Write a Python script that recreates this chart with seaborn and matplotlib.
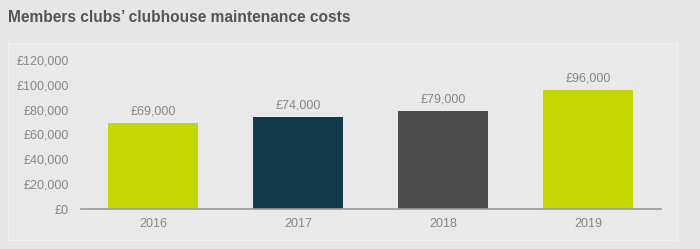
import matplotlib
matplotlib.use("Agg")
import matplotlib.pyplot as plt
import seaborn as sns
import pandas as pd
from matplotlib.patches import Rectangle

years = ["2016", "2017", "2018", "2019"]
costs = [69000, 74000, 79000, 96000]
bar_colors = ["#c5d700", "#133a4a", "#4d4d4d", "#c5d700"]
yticks = [0, 20000, 40000, 60000, 80000, 100000, 120000]
title = "Members clubs\u2019 clubhouse maintenance costs"

sns.set_theme(style="white")
plt.rcParams["font.family"] = ["Liberation Sans", "DejaVu Sans"]

df = pd.DataFrame({"year": years, "cost": costs})

fig = plt.figure(figsize=(7.0, 2.49), dpi=100)
bg = "#e6e6e6"
fig.patch.set_facecolor(bg)

# inner panel
panel = Rectangle((8 / 700, 1 - 240 / 249), (677 - 8) / 700, (240 - 43) / 249,
                  transform=fig.transFigure, facecolor="#e9e9e9",
                  edgecolor="#f0f0f0", linewidth=1.0, zorder=-5)
fig.patches.append(panel)

fig.text(8 / 700, 1 - 17 / 249, title, fontsize=11.2, fontweight="bold",
         color="#555555", va="center", ha="left")

ax = fig.add_axes([80.5 / 700, 1 - 209 / 249, (660.5 - 80.5) / 700, (209 - 60) / 249])
ax.set_facecolor("none")
ax.set_zorder(2)

sns.barplot(data=df, x="year", y="cost", hue="year", palette=bar_colors,
            legend=False, width=0.62, ax=ax, saturation=1, linewidth=0)

ax.set_xlim(-0.5, 3.5)
ax.set_ylim(0, 120000)
ax.set_yticks(yticks)
ax.set_yticklabels([f"\u00a3{v:,}" for v in yticks])
ax.set_xlabel("")
ax.set_ylabel("")

for s in ["top", "right", "left"]:
    ax.spines[s].set_visible(False)
ax.spines["bottom"].set_color("#999999")
ax.spines["bottom"].set_linewidth(1.2)
ax.tick_params(axis="both", length=0, labelsize=9, colors="#888888")
ax.tick_params(axis="y", pad=8.5)
ax.tick_params(axis="x", pad=6.5)

for i, v in enumerate(costs):
    ax.text(i, v + 4500, f"\u00a3{v:,}", ha="center", va="bottom",
            fontsize=9, color="#888888")

fig.savefig("out.png", dpi=100, facecolor=bg)
